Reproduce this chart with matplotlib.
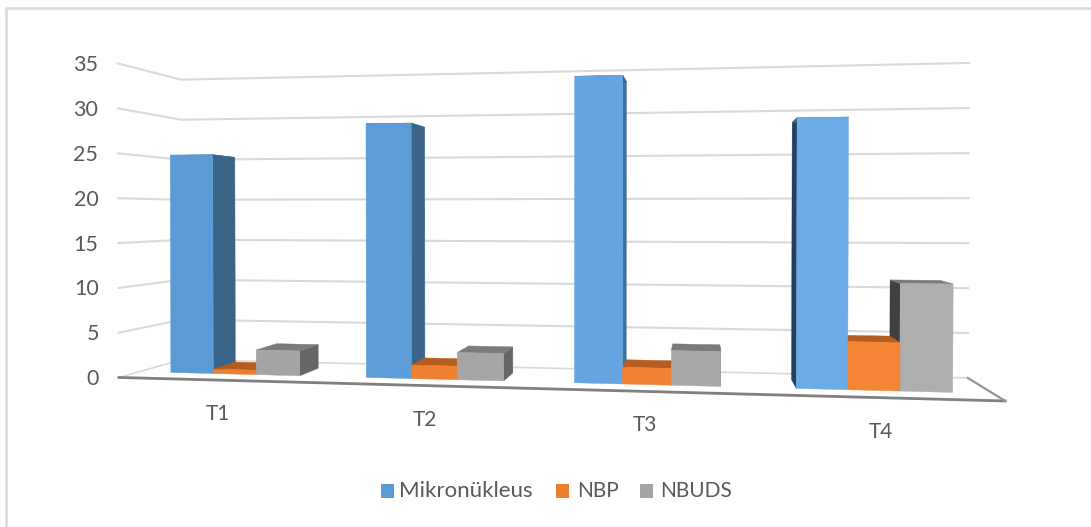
import matplotlib
matplotlib.use("Agg")
import matplotlib.pyplot as plt
from matplotlib.patches import Polygon, Rectangle
import numpy as np

categories = ["T1", "T2", "T3", "T4"]
series_names = ["Mikronükleus", "NBP", "NBUDS"]
mikronukleus = [25, 28.3, 33.1, 28.3]
nbp = [0.5, 1.5, 1.8, 5]
nbuds = [2.8, 3, 3.7, 11.1]
y_ticks = [0, 5, 10, 15, 20, 25, 30, 35]

V_MAX = 35
GAP = 1.5
D_FRONT, D_BACK = 0.3, 0.7

# camera calibration: box corner (u, v, d) -> figure pixel
box = [(0, 0, 0), (1, 0, 0), (0, 0, 1), (1, 0, 1), (0, V_MAX, 0), (0, V_MAX, 1), (1, V_MAX, 1)]
px = [(120, 377), (1005, 402), (181, 360), (968, 377), (117, 63), (182, 80), (969, 63)]


def fit_camera(box, px):
    A, b = [], []
    for (X, Y, Z), (x, y) in zip(box, px):
        A.append([X, Y, Z, 1, 0, 0, 0, 0, -x * X, -x * Y, -x * Z])
        b.append(x)
        A.append([0, 0, 0, 0, X, Y, Z, 1, -y * X, -y * Y, -y * Z])
        b.append(y)
    p = np.linalg.lstsq(np.array(A, float), np.array(b, float), rcond=None)[0]
    return np.append(p, 1.0).reshape(3, 4)


P = fit_camera(box, px)


def proj(u, v, d):
    q = P @ np.array([u, v, d, 1.0])
    return q[0] / q[2], q[1] / q[2]


fig = plt.figure(figsize=(10.91, 5.27), dpi=100)
ax = fig.add_axes([0, 0, 1, 1])
ax.set_xlim(0, 1091)
ax.set_ylim(527, 0)
ax.axis("off")
plt.rcParams["font.family"] = ["Lato", "DejaVu Sans"]

# chart frame, only its top and left edges are in view
ax.plot([6.3, 6.3, 1091], [527, 8.3, 8.3], color="#d9d9d9", lw=1.8)

# floor
floor = [proj(0, 0, 0), proj(1, 0, 0), proj(1, 0, 1), proj(0, 0, 1)]
ax.add_patch(Polygon(floor, closed=True, fc="white", ec="#d9d9d9", lw=1.2, zorder=1))
ax.plot(*zip(proj(0, 0, 0), proj(1, 0, 0)), color="#808080", lw=2, zorder=1.5)
ax.plot(*zip(proj(1, 0, 0), proj(1, 0, 1)), color="#969696", lw=1.6, zorder=1.5)

# gridlines on the side wall and back wall
for t in y_ticks:
    a, b, c = proj(0, t, 0), proj(0, t, 1), proj(1, t, 1)
    if t > 0:
        ax.plot(*zip(a, b, c), color="#d9d9d9", lw=1.5, zorder=1)
    ax.text(a[0] - 20, a[1] + 1.5, str(t), ha="right", va="center", fontsize=15.5, color="#595959")

blues = ["#5b9bd5", "#5c9cd8", "#64a5e1", "#6babe7"]
oranges = ["#ed7d31", "#ef7f31", "#f18233", "#f48535"]
greys = ["#a5a5a5", "#a6a6a6", "#a9a9a9", "#aeaeae"]
blue_sides = ["#3a6589", "#3a6589", "#3f6f9c", "#23415e"]
orange_sides = ["#b55d20"] * 4
grey_sides = ["#666666", "#666666", "#707070", "#404040"]

X_EYE = 770
bar_w = 0.25 / (3 + GAP)
values = [mikronukleus, nbp, nbuds]
fronts = [blues, oranges, greys]
sides = [blue_sides, orange_sides, grey_sides]
top_cols = ["#3a6589", "#b55d20", "#7b7b7b"]

bars = []
for i in range(len(categories)):
    for s in range(len(series_names)):
        u0 = i / 4 + (GAP / 2 + s) * bar_w
        bars.append((i, s, u0, u0 + bar_w, values[s][i]))
bars.sort(key=lambda r: -abs(proj((r[2] + r[3]) / 2, 0, D_FRONT)[0] - X_EYE))

z = 2
for i, s, u0, u1, val in bars:
    xr = proj(u1, 0, D_FRONT)[0]
    # side face on whichever flank faces the viewer
    if xr < X_EYE:
        side = [proj(u1, 0, D_FRONT), proj(u1, 0, D_BACK), proj(u1, val, D_BACK), proj(u1, val, D_FRONT)]
    else:
        side = [proj(u0, 0, D_FRONT), proj(u0, 0, D_BACK), proj(u0, val, D_BACK), proj(u0, val, D_FRONT)]
    top = [proj(u0, val, D_FRONT), proj(u1, val, D_FRONT), proj(u1, val, D_BACK), proj(u0, val, D_BACK)]
    front = [proj(u0, 0, D_FRONT), proj(u1, 0, D_FRONT), proj(u1, val, D_FRONT), proj(u0, val, D_FRONT)]
    col = sides[s][i]
    ax.add_patch(Polygon(side, closed=True, fc=col, ec=col, lw=0.3, zorder=z))
    ax.add_patch(Polygon(top, closed=True, fc=top_cols[s], ec=top_cols[s], lw=0.3, zorder=z + 0.1))
    ax.add_patch(Polygon(front, closed=True, fc=fronts[s][i], ec=fronts[s][i], lw=0.3, zorder=z + 0.2))
    z += 1

# category labels under the front edge
for i, name in enumerate(categories):
    x, y = proj((i + 0.5) / 4, 0, 0)
    ax.text(x + 0.5, y + 34, name, ha="center", va="center", fontsize=15, color="#595959")

# legend
swatch_x = [381, 556, 640]
text_x = [399, 577, 660]
text_size = [16, 15, 15]
for sx, tx, fs, name, col in zip(swatch_x, text_x, text_size, series_names, ["#5b9bd5", "#ed7d31", "#a5a5a5"]):
    ax.add_patch(Rectangle((sx, 484), 13, 14, fc=col, ec="none"))
    ax.text(tx, 491, name, ha="left", va="center", fontsize=fs, color="#595959")

fig.savefig("out.png", dpi=100)
